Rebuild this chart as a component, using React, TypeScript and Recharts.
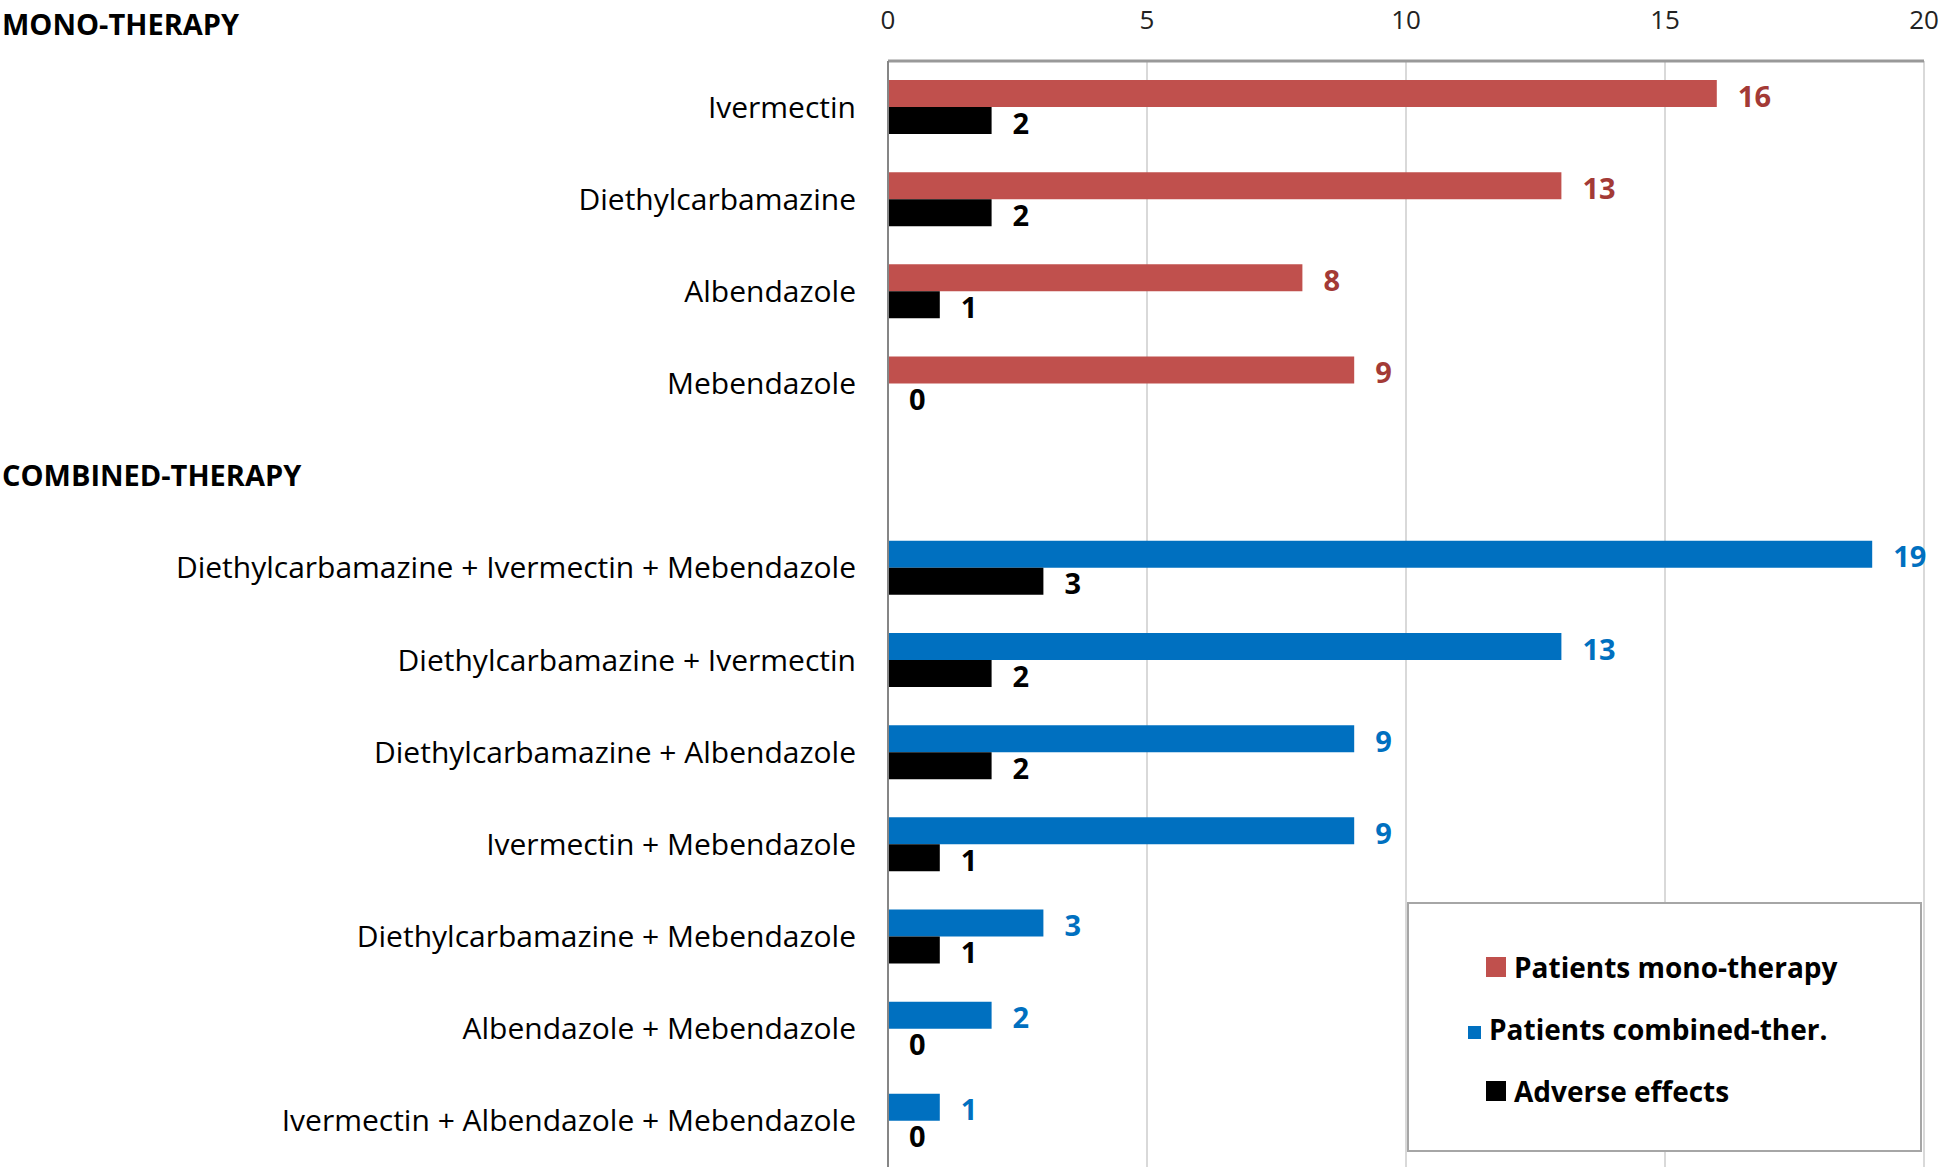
import { BarChart, Bar, XAxis, YAxis, CartesianGrid, LabelList } from 'recharts';

const categories = [
  'Ivermectin',
  'Diethylcarbamazine',
  'Albendazole',
  'Mebendazole',
  'COMBINED-THERAPY',
  'Diethylcarbamazine + Ivermectin + Mebendazole',
  'Diethylcarbamazine + Ivermectin',
  'Diethylcarbamazine + Albendazole',
  'Ivermectin + Mebendazole',
  'Diethylcarbamazine + Mebendazole',
  'Albendazole + Mebendazole',
  'Ivermectin + Albendazole + Mebendazole',
];
const monoPatients = [16, 13, 8, 9, null, null, null, null, null, null, null, null];
const combinedPatients = [null, null, null, null, null, 19, 13, 9, 9, 3, 2, 1];
const adverseEffects = [2, 2, 1, 0, null, 3, 2, 2, 1, 1, 0, 0];
const xTicks = [0, 5, 10, 15, 20];
const headers = ['MONO-THERAPY', 'COMBINED-THERAPY'];

const series = [
  { key: 'mono', name: 'Patients mono-therapy', color: '#C0504D', label: '#A33A36', marker: 20, stack: 'patients' },
  { key: 'combined', name: 'Patients combined-ther.', color: '#0070C0', label: '#0070C0', marker: 13, stack: 'patients' },
  { key: 'adverse', name: 'Adverse effects', color: '#000000', label: '#000000', marker: 20, stack: undefined },
];

const data = categories.map((name, i) => ({
  name,
  mono: monoPatients[i],
  combined: combinedPatients[i],
  adverse: adverseEffects[i],
}));

const FONT = '"Open Sans", sans-serif';

function CategoryTick(props: any) {
  const { x, y, payload } = props;
  if (headers.includes(payload.value)) {
    return (
      <text x={2} y={y} dy="0.35em" textAnchor="start" fontSize={29} fontWeight="bold" fill="#000" fontFamily={FONT}>
        {payload.value}
      </text>
    );
  }
  return (
    <text x={x} y={y} dy="0.35em" textAnchor="end" fontSize={30} fill="#000" fontFamily={FONT}>
      {payload.value}
    </text>
  );
}

// value label drawn next to the bar end; zero bars put it next to the axis
function ValueLabel(props: any) {
  const { x, y, width, height, value, fill } = props;
  if (value === null || value === undefined) return null;
  const end = value === 0 ? x : x + width;
  return (
    <text
      x={end + 21}
      y={y + height / 2 + 3}
      dy="0.35em"
      textAnchor="start"
      fill={fill}
      fontSize={29}
      fontWeight="bold"
      fontFamily={FONT}
    >
      {value}
    </text>
  );
}

export default function App() {
  return (
    <div style={{ position: 'relative', width: 1946, height: 1168, background: '#fff', fontFamily: FONT }}>
      <style>{'body{margin:0}'}</style>
      <div style={{ position: 'absolute', left: 2, top: 8, fontSize: 29, fontWeight: 'bold', lineHeight: '32px' }}>
        {headers[0]}
      </div>
      <BarChart
        layout="vertical"
        width={1946}
        height={1168}
        data={data}
        margin={{ top: 0, right: 22, bottom: 1, left: 0 }}
        barSize={27}
        barGap={0}
      >
        <CartesianGrid horizontal={false} stroke="#d9d9d9" strokeWidth={2} />
        {series.map((s) => (
          <Bar
            key={s.key}
            dataKey={s.key}
            name={s.name}
            fill={s.color}
            stackId={s.stack}
            minPointSize={s.stack ? 0 : (v: any) => (v === 0 ? 1 : 0)}
            isAnimationActive={false}
          >
            <LabelList dataKey={s.key} fill={s.label} content={<ValueLabel fill={s.label} />} />
          </Bar>
        ))}
        <XAxis
          type="number"
          orientation="top"
          domain={[0, 20]}
          ticks={xTicks}
          height={61}
          tickSize={0}
          tickMargin={32}
          axisLine={{ stroke: '#999', strokeWidth: 3 }}
          tick={{ fontSize: 26, fill: '#222', fontFamily: FONT }}
        />
        <YAxis
          type="category"
          dataKey="name"
          width={888}
          tickSize={0}
          tickMargin={32}
          interval={0}
          axisLine={{ stroke: '#868686', strokeWidth: 2 }}
          tick={<CategoryTick />}
        />
      </BarChart>
      <div
        style={{
          position: 'absolute',
          left: 1407,
          top: 902,
          width: 511,
          height: 246,
          border: '2px solid #a6a6a6',
          background: '#fff',
        }}
      >
        {series.map((s, i) => (
          <div
            key={s.key}
            style={{
              position: 'absolute',
              left: s.marker === 20 ? 77 : 59,
              top: 43 + i * 62,
              height: 40,
              display: 'flex',
              alignItems: 'center',
              fontSize: 28,
              fontWeight: 'bold',
              whiteSpace: 'nowrap',
            }}
          >
            <span
              style={{
                display: 'inline-block',
                width: s.marker,
                height: s.marker,
                background: s.color,
                marginRight: 8,
                marginTop: s.marker === 20 ? 0 : 6,
              }}
            />
            {s.name}
          </div>
        ))}
      </div>
    </div>
  );
}
